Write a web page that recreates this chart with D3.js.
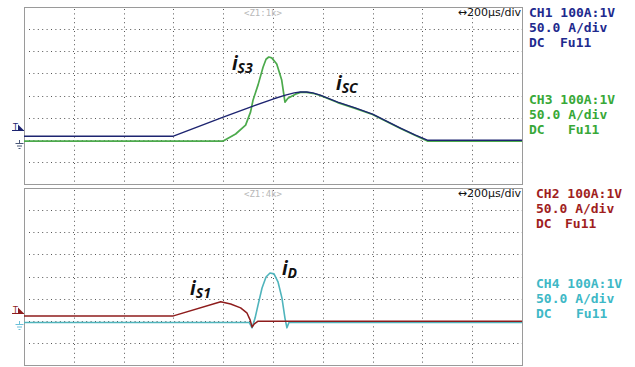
<!DOCTYPE html>
<html>
<head>
<meta charset="utf-8">
<script src="https://cdn.jsdelivr.net/npm/d3@7"></script>
<style>
  body { margin: 0; background: #fff; }
  svg { display: block; }
</style>
</head>
<body>
<svg id="scope" width="635" height="367"></svg>
<script>
// readings: [time in us, current in A], 200us/div, 50A/div
const ch1 = [[0,8],[600,8],[800,51],[920,76],[1000,92],[1050,101],[1085,106],[1110,108],[1135,108],[1160,106],[1190,101],[1260,85],[1330,72],[1400,58],[1460,41],[1510,27],[1570,11],[1620,-1],[2000,-1]];
const ch3 = [[0,-3],[800,-3],[850,13],[890,33],[910,63],[920,90],[940,124],[960,164],[972,182],[983,187],[995,185],[1015,171],[1035,135],[1048,85],[1060,94],[1090,103],[1110,107],[1135,107],[1160,105],[1190,100],[1260,84],[1330,71],[1400,57],[1460,40],[1510,26],[1570,10],[1620,-3],[2000,-3]];
const ch2 = [[0,11],[600,11],[790,43],[830,38],[870,29],[895,18],[908,2],[916,-14],[925,-7],[940,-1],[2000,-1]];
const ch4 = [[0,-4],[905,-4],[916,-16],[928,6],[940,36],[956,74],[972,99],[988,108],[1004,106],[1020,88],[1036,51],[1048,6],[1056,-16],[1064,-4],[2000,-4]];

const timeDomain = [0, 2000];
const ampDomain = [-100, 300];
const xTicks = d3.range(0, 2001, 200);
const yTicks = d3.range(-100, 301, 50);

const chInfo = {
  CH1: ['CH1 100A:1V', '50.0 A/div', 'DC', 'Fu11'],
  CH3: ['CH3 100A:1V', '50.0 A/div', 'DC', 'Fu11'],
  CH2: ['CH2 100A:1V', '50.0 A/div', 'DC', 'Fu11'],
  CH4: ['CH4 100A:1V', '50.0 A/div', 'DC', 'Fu11']
};

const labels = [
  { panel: 0, sub: 'S3', t: 835, a: 158 },
  { panel: 0, sub: 'SC', t: 1253, a: 112 },
  { panel: 1, sub: 'S1', t: 667, a: 58 },
  { panel: 1, sub: 'D', t: 1036, a: 103 }
];

const panels = [
  { top: 7, bottom: 184, zoom: '<Z1:1k>', trig: 22, trigColor: '#1d2470', gndColor: '#4a5878',
    traces: [{ d: ch3, c: '#4caa4c', w: 1.7 }, { d: ch1, c: '#1d2470', w: 1.4 }],
    info: [{ k: 'CH1', c: '#1e2a8e', x: 529, y: 17, fx: 560 }, { k: 'CH3', c: '#38a838', x: 529, y: 104, fx: 568 }] },
  { top: 188, bottom: 365, zoom: '<Z1:4k>', trig: 17, trigColor: '#8e1c1c', gndColor: '#6cc0d8',
    traces: [{ d: ch4, c: '#4fb4bc', w: 1.6 }, { d: ch2, c: '#8e1c1c', w: 1.5 }],
    info: [{ k: 'CH2', c: '#a01e1e', x: 536, y: 198, fx: 565 }, { k: 'CH4', c: '#3eb8c6', x: 536, y: 288, fx: 576 }] }
];

const svg = d3.select('#scope');
const x = d3.scaleLinear().domain(timeDomain).range([24, 522]);

panels.forEach((p, pi) => {
  const y = d3.scaleLinear().domain(ampDomain).range([p.bottom, p.top]);
  const g = svg.append('g').attr('class', 'panel');

  // grid
  g.append('g').selectAll('line.v').data(xTicks.slice(1, -1)).join('line')
    .attr('x1', d => Math.round(x(d)) + 0.5).attr('x2', d => Math.round(x(d)) + 0.5)
    .attr('y1', p.top + 2).attr('y2', p.bottom)
    .attr('stroke', '#555').attr('stroke-width', 1).attr('stroke-dasharray', '1,3.4');
  g.append('g').selectAll('line.h').data(yTicks.slice(1, -1)).join('line')
    .attr('y1', d => Math.round(y(d)) + 0.5).attr('y2', d => Math.round(y(d)) + 0.5)
    .attr('x1', x(0) + 5).attr('x2', x(2000))
    .attr('stroke', '#555').attr('stroke-width', 1).attr('stroke-dasharray', '1,3.4');

  // frame
  g.append('rect').attr('x', x(0) + 0.5).attr('y', p.top + 0.5)
    .attr('width', x(2000) - x(0)).attr('height', p.bottom - p.top)
    .attr('fill', 'none').attr('stroke', '#9a9a9a').attr('stroke-width', 1);

  g.append('text').attr('x', 263).attr('y', p.top + 9)
    .attr('text-anchor', 'middle').attr('font-family', 'DejaVu Sans Mono, monospace')
    .attr('font-size', '9px').attr('fill', '#b8b8b8').text(p.zoom);

  g.append('text').attr('x', 521).attr('y', p.top + 9)
    .attr('text-anchor', 'end').attr('font-family', 'DejaVu Sans, sans-serif')
    .attr('font-size', '11px').attr('fill', '#111').text('\u2194200\u03bcs/div');

  // traces
  const line = d3.line().x(d => x(d[0])).y(d => y(d[1]));
  p.traces.forEach(tr => {
    g.append('path').datum(tr.d).attr('d', line)
      .attr('fill', 'none').attr('stroke', tr.c).attr('stroke-width', tr.w)
      .attr('stroke-linejoin', 'round');
  });

  // trigger marker
  const ty = Math.round(y(p.trig)) + 0.5;
  g.append('text').attr('x', 15.5).attr('y', ty - 1).attr('text-anchor', 'middle')
    .attr('font-family', 'DejaVu Sans, sans-serif').attr('font-size', '8px')
    .attr('fill', p.trigColor).text('T');
  g.append('path').attr('d', `M18,${ty - 6}L24,${ty}L18,${ty}Z`).attr('fill', p.trigColor);
  g.append('line').attr('x1', 12).attr('x2', 24).attr('y1', ty).attr('y2', ty)
    .attr('stroke', p.trigColor).attr('stroke-width', 1);

  // ground marker
  const gy = Math.round(y(0));
  g.append('path')
    .attr('d', `M19.5,${gy}V${gy + 3.5}M15.5,${gy + 3.5}H23.5M17,${gy + 6}H22M18.5,${gy + 8.5}H20.5`)
    .attr('fill', 'none').attr('stroke', p.gndColor).attr('stroke-width', 1);

  // channel info
  p.info.forEach(ci => {
    const t = chInfo[ci.k];
    const tg = g.append('g').attr('font-family', 'DejaVu Sans Mono, monospace')
      .attr('font-size', '13px').attr('font-weight', 'bold').attr('fill', ci.c);
    tg.append('text').attr('x', ci.x).attr('y', ci.y).text(t[0]);
    tg.append('text').attr('x', ci.x).attr('y', ci.y + 15).text(t[1]);
    tg.append('text').attr('x', ci.x).attr('y', ci.y + 30).text(t[2]);
    tg.append('text').attr('x', ci.fx).attr('y', ci.y + 30).text(t[3]);
  });

  // trace labels
  labels.filter(l => l.panel === pi).forEach(l => {
    const txt = g.append('text').attr('x', x(l.t)).attr('y', y(l.a))
      .attr('font-family', 'Open Sans, Liberation Sans, sans-serif')
      .attr('font-style', 'italic').attr('font-weight', 'bold').attr('fill', '#111');
    txt.append('tspan').attr('font-size', '19px').text('i');
    txt.append('tspan').attr('font-size', '14px').attr('dy', 3).text(l.sub);
  });
});
</script>
</body>
</html>
